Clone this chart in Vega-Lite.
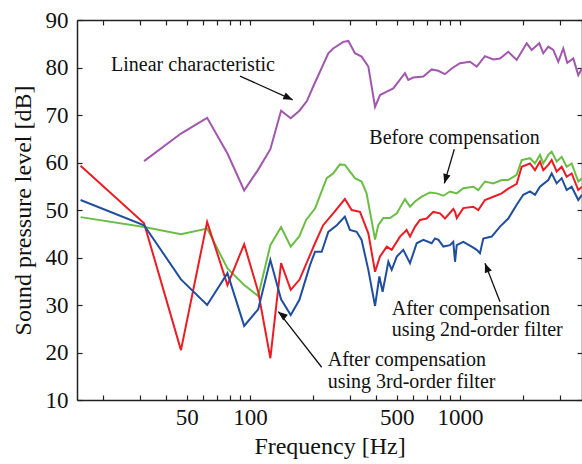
{
  "$schema": "https://vega.github.io/schema/vega-lite/v6.json",
  "width": 505,
  "height": 380,
  "autosize": {"type": "none"},
  "padding": {"left": 77, "top": 20, "right": 0, "bottom": 64},
  "background": "white",
  "config": {
    "view": {"stroke": null},
    "font": "Liberation Serif",
    "text": {"font": "Liberation Serif"},
    "axis": {"grid": false, "domainColor": "#222", "tickColor": "#222", "domainWidth": 1.5, "tickWidth": 1.2, "labelFont": "Liberation Serif", "titleFont": "Liberation Serif", "labelColor": "#111", "titleColor": "#111", "labelFontSize": 23, "titleFontSize": 24, "titleFontWeight": "normal"}
  },
  "datasets": {
    "curves": [
      {"s":"lin","f":31.3,"db":60.3},{"s":"lin","f":46.9,"db":66.1},{"s":"lin","f":62.5,"db":69.4},{"s":"lin","f":78.1,"db":61.9},{"s":"lin","f":93.8,"db":54.1},{"s":"lin","f":109.4,"db":58.5},{"s":"lin","f":125,"db":62.8},{"s":"lin","f":140.6,"db":70.9},{"s":"lin","f":156.3,"db":69.3},{"s":"lin","f":171.9,"db":70.9},{"s":"lin","f":187,"db":73.0},{"s":"lin","f":200,"db":76.0},{"s":"lin","f":236,"db":83.0},{"s":"lin","f":249,"db":84.0},{"s":"lin","f":278,"db":85.4},{"s":"lin","f":294,"db":85.6},{"s":"lin","f":316,"db":83.0},{"s":"lin","f":340,"db":82.3},{"s":"lin","f":366,"db":80.2},{"s":"lin","f":394,"db":71.7},{"s":"lin","f":416,"db":74.2},{"s":"lin","f":448,"db":74.9},{"s":"lin","f":481,"db":75.6},{"s":"lin","f":547,"db":78.8},{"s":"lin","f":567,"db":77.4},{"s":"lin","f":599,"db":77.9},{"s":"lin","f":669,"db":78.1},{"s":"lin","f":733,"db":79.6},{"s":"lin","f":788,"db":79.3},{"s":"lin","f":848,"db":78.6},{"s":"lin","f":913,"db":79.8},{"s":"lin","f":1000,"db":80.9},{"s":"lin","f":1116,"db":81.2},{"s":"lin","f":1201,"db":80.2},{"s":"lin","f":1315,"db":82.4},{"s":"lin","f":1441,"db":81.7},{"s":"lin","f":1551,"db":81.9},{"s":"lin","f":1698,"db":83.3},{"s":"lin","f":1862,"db":81.6},{"s":"lin","f":2078,"db":85.1},{"s":"lin","f":2195,"db":83.7},{"s":"lin","f":2386,"db":85.1},{"s":"lin","f":2493,"db":83.0},{"s":"lin","f":2633,"db":84.4},{"s":"lin","f":2782,"db":83.7},{"s":"lin","f":2938,"db":81.2},{"s":"lin","f":3104,"db":84.0},{"s":"lin","f":3243,"db":81.0},{"s":"lin","f":3464,"db":81.9},{"s":"lin","f":3659,"db":78.4},{"s":"lin","f":3811,"db":79.8},

      {"s":"before","f":15.6,"db":48.5},{"s":"before","f":31.3,"db":46.4},{"s":"before","f":46.9,"db":44.9},{"s":"before","f":62.5,"db":46.1},{"s":"before","f":78.1,"db":37.7},{"s":"before","f":93.8,"db":34.2},{"s":"before","f":109.4,"db":31.9},{"s":"before","f":125,"db":42.6},{"s":"before","f":140.6,"db":46.4},{"s":"before","f":156.3,"db":42.3},{"s":"before","f":171.9,"db":44.5},{"s":"before","f":185,"db":47.9},{"s":"before","f":204,"db":50.3},{"s":"before","f":232,"db":56.7},{"s":"before","f":249,"db":57.7},{"s":"before","f":268,"db":59.6},{"s":"before","f":283,"db":59.5},{"s":"before","f":316,"db":56.7},{"s":"before","f":340,"db":56.0},{"s":"before","f":359,"db":53.5},{"s":"before","f":394,"db":43.8},{"s":"before","f":408,"db":46.8},{"s":"before","f":431,"db":48.3},{"s":"before","f":464,"db":48.3},{"s":"before","f":500,"db":49.3},{"s":"before","f":547,"db":52.3},{"s":"before","f":578,"db":50.7},{"s":"before","f":611,"db":51.8},{"s":"before","f":657,"db":52.8},{"s":"before","f":720,"db":53.7},{"s":"before","f":775,"db":53.5},{"s":"before","f":833,"db":53.0},{"s":"before","f":896,"db":53.9},{"s":"before","f":965,"db":53.5},{"s":"before","f":1037,"db":54.6},{"s":"before","f":1157,"db":54.9},{"s":"before","f":1222,"db":54.2},{"s":"before","f":1315,"db":56.0},{"s":"before","f":1441,"db":55.6},{"s":"before","f":1580,"db":56.3},{"s":"before","f":1698,"db":56.3},{"s":"before","f":1862,"db":57.4},{"s":"before","f":1967,"db":60.5},{"s":"before","f":2154,"db":60.9},{"s":"before","f":2276,"db":59.8},{"s":"before","f":2404,"db":61.6},{"s":"before","f":2493,"db":59.8},{"s":"before","f":2633,"db":61.6},{"s":"before","f":2733,"db":62.3},{"s":"before","f":2887,"db":60.2},{"s":"before","f":3050,"db":61.2},{"s":"before","f":3222,"db":59.1},{"s":"before","f":3403,"db":59.8},{"s":"before","f":3659,"db":56.0},{"s":"before","f":3811,"db":56.7},

      {"s":"c3","f":15.6,"db":59.3},{"s":"c3","f":31.3,"db":47.2},{"s":"c3","f":46.9,"db":20.5},{"s":"c3","f":62.5,"db":47.5},{"s":"c3","f":78.1,"db":34.2},{"s":"c3","f":93.8,"db":42.8},{"s":"c3","f":109.4,"db":32.8},{"s":"c3","f":125,"db":18.8},{"s":"c3","f":140.6,"db":38.8},{"s":"c3","f":156.3,"db":33.2},{"s":"c3","f":171.9,"db":35.3},{"s":"c3","f":193,"db":40.5},{"s":"c3","f":204,"db":43.0},{"s":"c3","f":223,"db":46.8},{"s":"c3","f":249,"db":49.3},{"s":"c3","f":283,"db":52.3},{"s":"c3","f":305,"db":50.0},{"s":"c3","f":334,"db":49.6},{"s":"c3","f":366,"db":45.1},{"s":"c3","f":394,"db":37.0},{"s":"c3","f":416,"db":40.2},{"s":"c3","f":448,"db":42.3},{"s":"c3","f":473,"db":41.6},{"s":"c3","f":518,"db":44.4},{"s":"c3","f":557,"db":45.8},{"s":"c3","f":578,"db":44.4},{"s":"c3","f":611,"db":46.5},{"s":"c3","f":645,"db":47.9},{"s":"c3","f":694,"db":48.2},{"s":"c3","f":746,"db":49.6},{"s":"c3","f":803,"db":49.3},{"s":"c3","f":848,"db":48.2},{"s":"c3","f":929,"db":50.2},{"s":"c3","f":947,"db":49.6},{"s":"c3","f":965,"db":48.3},{"s":"c3","f":1037,"db":50.4},{"s":"c3","f":1157,"db":50.7},{"s":"c3","f":1222,"db":50.0},{"s":"c3","f":1315,"db":52.1},{"s":"c3","f":1441,"db":52.8},{"s":"c3","f":1580,"db":53.5},{"s":"c3","f":1698,"db":54.5},{"s":"c3","f":1862,"db":55.5},{"s":"c3","f":1967,"db":59.1},{"s":"c3","f":2154,"db":59.8},{"s":"c3","f":2276,"db":58.4},{"s":"c3","f":2404,"db":60.2},{"s":"c3","f":2493,"db":58.4},{"s":"c3","f":2633,"db":59.5},{"s":"c3","f":2733,"db":60.5},{"s":"c3","f":2887,"db":58.1},{"s":"c3","f":3050,"db":59.1},{"s":"c3","f":3222,"db":57.0},{"s":"c3","f":3403,"db":57.7},{"s":"c3","f":3659,"db":54.2},{"s":"c3","f":3811,"db":54.9},

      {"s":"c2","f":15.6,"db":52.1},{"s":"c2","f":31.3,"db":46.8},{"s":"c2","f":46.9,"db":35.4},{"s":"c2","f":62.5,"db":30.0},{"s":"c2","f":78.1,"db":36.7},{"s":"c2","f":93.8,"db":25.6},{"s":"c2","f":109.4,"db":29.1},{"s":"c2","f":125,"db":39.5},{"s":"c2","f":140.6,"db":31.2},{"s":"c2","f":156.3,"db":27.9},{"s":"c2","f":171.9,"db":31.1},{"s":"c2","f":193,"db":38.4},{"s":"c2","f":204,"db":41.2},{"s":"c2","f":219.5,"db":41.2},{"s":"c2","f":236,"db":45.4},{"s":"c2","f":259,"db":46.8},{"s":"c2","f":283,"db":48.6},{"s":"c2","f":299,"db":45.8},{"s":"c2","f":322,"db":45.4},{"s":"c2","f":340,"db":43.7},{"s":"c2","f":366,"db":37.4},{"s":"c2","f":394,"db":29.8},{"s":"c2","f":413,"db":36.0},{"s":"c2","f":428,"db":32.8},{"s":"c2","f":456,"db":39.1},{"s":"c2","f":473,"db":37.4},{"s":"c2","f":500,"db":40.2},{"s":"c2","f":537,"db":41.6},{"s":"c2","f":578,"db":38.8},{"s":"c2","f":622,"db":43.0},{"s":"c2","f":669,"db":43.7},{"s":"c2","f":733,"db":43.0},{"s":"c2","f":760,"db":44.0},{"s":"c2","f":790,"db":43.7},{"s":"c2","f":833,"db":42.3},{"s":"c2","f":896,"db":42.6},{"s":"c2","f":929,"db":43.3},{"s":"c2","f":947,"db":39.1},{"s":"c2","f":965,"db":42.6},{"s":"c2","f":1037,"db":43.3},{"s":"c2","f":1137,"db":42.3},{"s":"c2","f":1201,"db":41.6},{"s":"c2","f":1245,"db":40.9},{"s":"c2","f":1291,"db":44.0},{"s":"c2","f":1416,"db":44.4},{"s":"c2","f":1551,"db":46.5},{"s":"c2","f":1698,"db":48.2},{"s":"c2","f":1862,"db":51.1},{"s":"c2","f":2002,"db":53.2},{"s":"c2","f":2154,"db":53.9},{"s":"c2","f":2276,"db":53.2},{"s":"c2","f":2404,"db":54.9},{"s":"c2","f":2633,"db":56.3},{"s":"c2","f":2733,"db":57.7},{"s":"c2","f":2887,"db":55.6},{"s":"c2","f":3050,"db":56.7},{"s":"c2","f":3222,"db":54.2},{"s":"c2","f":3403,"db":54.9},{"s":"c2","f":3659,"db":52.1},{"s":"c2","f":3811,"db":53.2}
    ],
    "notes": [
      {"f":21.8,"db":80.5,"t":["Linear characteristic"]},
      {"f":369.9,"db":65.1,"t":["Before compensation"]},
      {"f":472.9,"db":29.2,"t":["After compensation","using 2nd-order filter"]},
      {"f":234.4,"db":18.4,"t":["After compensation","using 3rd-order filter"]}
    ],
    "arrows": [
      {"id":1,"f1":89.6,"db1":78.2,"f2":159.7,"db2":73.2},
      {"id":2,"f1":939.6,"db1":62.8,"f2":842,"db2":55.6},
      {"id":3,"f1":1550.6,"db1":30.7,"f2":1315,"db2":38.8},
      {"id":4,"f1":219.5,"db1":16.9,"f2":136.4,"db2":28.6}
    ]
  },
  "layer": [
    {
      "data": {"name": "curves"},
      "mark": {"type": "line", "strokeWidth": 2, "clip": true},
      "encoding": {
        "x": {"field": "f", "type": "quantitative", "scale": {"type": "log", "domain": [15, 3811], "nice": false},
          "axis": {"orient": "bottom", "values": [20,30,40,50,60,70,80,90,100,200,300,400,500,600,700,800,900,1000,2000,3000], "labelExpr": "indexof([50,100,500,1000], datum.value) >= 0 ? '' + datum.value : ''", "labelOverlap": false, "labelFlush": false, "tickSize": -5, "labelPadding": 11, "labelFont": "Liberation Serif", "titleFont": "Liberation Serif", "labelFontSize": 23, "titleFontSize": 24, "title": "Frequency [Hz]", "titlePadding": 5}},
        "y": {"field": "db", "type": "quantitative", "scale": {"domain": [10, 90], "nice": false, "zero": false},
          "axis": {"orient": "left", "values": [10,20,30,40,50,60,70,80,90], "tickSize": -5, "labelPadding": 14, "labelFont": "Liberation Serif", "titleFont": "Liberation Serif", "labelFontSize": 23, "titleFontSize": 24, "title": "Sound pressure level [dB]", "titlePadding": 10}},
        "color": {"field": "s", "type": "nominal", "scale": {"domain": ["lin", "before", "c2", "c3"], "range": ["#A257AE", "#6BBE45", "#1F4E9F", "#EC1C24"]}, "legend": null}
      }
    },
    {
      "data": {"name": "notes"},
      "mark": {"type": "text", "align": "left", "baseline": "middle", "fontSize": 20, "lineHeight": 21.5, "font": "Liberation Serif", "color": "#111"},
      "encoding": {
        "x": {"field": "f", "type": "quantitative", "scale": {"type": "log", "domain": [15, 3811], "nice": false},
          "axis": {"orient": "top", "values": [20,30,40,50,60,70,80,90,100,200,300,400,500,600,700,800,900,1000,2000,3000], "labels": false, "tickSize": -5, "title": null}},
        "y": {"field": "db", "type": "quantitative", "scale": {"domain": [10, 90], "nice": false, "zero": false},
          "axis": {"orient": "right", "values": [10,20,30,40,50,60,70,80,90], "labels": false, "tickSize": -5, "title": null}},
        "text": {"field": "t"}
      }
    },
    {
      "data": {"name": "arrows"},
      "mark": {"type": "rule", "strokeWidth": 1.3, "color": "#111"},
      "encoding": {
        "x": {"field": "f1", "type": "quantitative", "scale": {"type": "log", "domain": [15, 3811], "nice": false}, "axis": null},
        "y": {"field": "db1", "type": "quantitative", "scale": {"domain": [10, 90], "nice": false, "zero": false}, "axis": null},
        "x2": {"field": "f2"},
        "y2": {"field": "db2"}
      }
    },
    {
      "data": {"name": "arrows"},
      "transform": [{"filter": "datum.id == 1"}],
      "mark": {"type": "point", "shape": "M0,0L-0.4,1L0.4,1Z", "filled": true, "color": "#111", "size": 350, "angle": 114.5, "opacity": 1},
      "encoding": {
        "x": {"field": "f2", "type": "quantitative", "scale": {"type": "log", "domain": [15, 3811], "nice": false}, "axis": null},
        "y": {"field": "db2", "type": "quantitative", "scale": {"domain": [10, 90], "nice": false, "zero": false}, "axis": null}
      }
    },
    {
      "data": {"name": "arrows"},
      "transform": [{"filter": "datum.id == 2"}],
      "mark": {"type": "point", "shape": "M0,0L-0.4,1L0.4,1Z", "filled": true, "color": "#111", "size": 350, "angle": 196.4, "opacity": 1},
      "encoding": {
        "x": {"field": "f2", "type": "quantitative", "scale": {"type": "log", "domain": [15, 3811], "nice": false}, "axis": null},
        "y": {"field": "db2", "type": "quantitative", "scale": {"domain": [10, 90], "nice": false, "zero": false}, "axis": null}
      }
    },
    {
      "data": {"name": "arrows"},
      "transform": [{"filter": "datum.id == 3"}],
      "mark": {"type": "point", "shape": "M0,0L-0.4,1L0.4,1Z", "filled": true, "color": "#111", "size": 350, "angle": 338.7, "opacity": 1},
      "encoding": {
        "x": {"field": "f2", "type": "quantitative", "scale": {"type": "log", "domain": [15, 3811], "nice": false}, "axis": null},
        "y": {"field": "db2", "type": "quantitative", "scale": {"domain": [10, 90], "nice": false, "zero": false}, "axis": null}
      }
    },
    {
      "data": {"name": "arrows"},
      "transform": [{"filter": "datum.id == 4"}],
      "mark": {"type": "point", "shape": "M0,0L-0.4,1L0.4,1Z", "filled": true, "color": "#111", "size": 350, "angle": 309.4, "opacity": 1},
      "encoding": {
        "x": {"field": "f2", "type": "quantitative", "scale": {"type": "log", "domain": [15, 3811], "nice": false}, "axis": null},
        "y": {"field": "db2", "type": "quantitative", "scale": {"domain": [10, 90], "nice": false, "zero": false}, "axis": null}
      }
    }
  ],
  "resolve": {"axis": {"x": "independent", "y": "independent"}}
}
